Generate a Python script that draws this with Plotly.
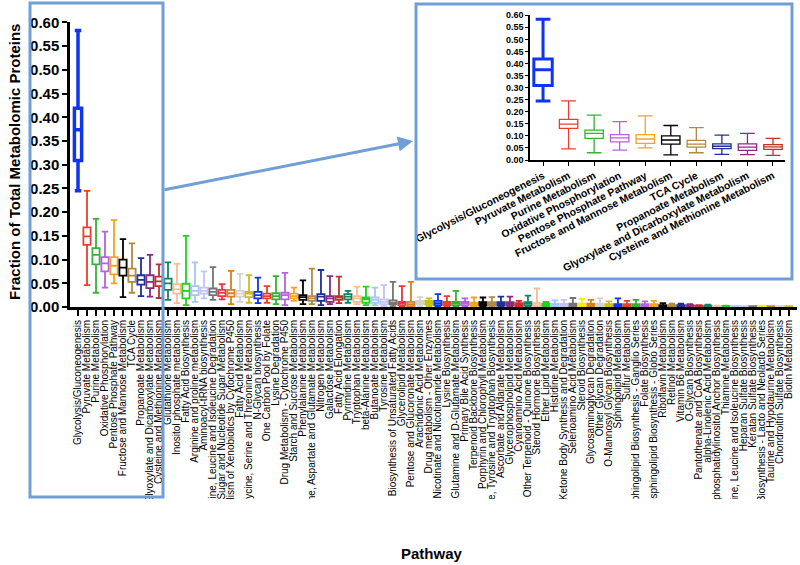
import plotly.graph_objects as go

pathways = [
    "Glycolysis/Gluconeogenesis", "Pyruvate Metabolism", "Purine Metabolism",
    "Oxidative Phosphorylation", "Pentose Phosphate Pathway", "Fructose and Mannose Metabolism",
    "TCA Cycle", "Propanoate Metabolism", "Glyoxylate and Dicarboxylate Metabolism",
    "Cysteine and Methionine Metabolism", "Glutathione Metabolism", "Inositol phosphate metabolism",
    "Fatty Acid Biosynthesis", "Arginine and proline metabolism", "Aminoacyl-tRNA biosynthesis",
    "Valine, Leucine and Isoleucine Degradation", "Amino Sugar and Nucleotide Sugar Metabolism",
    "Metabolism of Xenobiotics by Cytochrome P450", "Fatty Acid Metabolism",
    "Glycine, Serine and Threonine Metabolism", "N-Glycan biosynthesis", "One Carbon Pool by Folate",
    "Lysine Degradation", "Drug Metabolism - Cytochrome P450", "Starch and Sucrose Metabolism",
    "Phenylalanine Metabolism", "Alanine, Aspartate and Glutamate Metabolism", "Nitrogen Metabolism",
    "Galactose Metabolism", "Fatty Acid Elongation", "Pyrimidine Metabolism", "Tryptophan Metabolism",
    "beta-Alanine Metabolism", "Butanoate Metabolism", "Tyrosine Metabolism",
    "Biosynthesis of Unsaturated Fatty Acids", "Glycerolipid Metabolism",
    "Pentose and Glucoronate Metabolism", "Arachidonic Acid Metabolism",
    "Drug metabolism - Other Enzymes", "Nicotinate and Nicotinamide Metabolism", "Lysine Biosynthesis",
    "D-Glutamine and D-Glutamate Metabolism", "Primary Bile Acid Synthesis",
    "Terpenoid Backbone Biosynthesis", "Porphyrin and Chlorophyll Metabolism",
    "Phenylalanine, Tyrosine and Tryptophan Biosynthesis", "Ascorbate and Aldarate Metabolism",
    "Glycerophospholipid Metabolism", "Cyanoamino Acid Metabolism",
    "Ubiquinone and Other Terpenoid - Quinone Biosynthesis", "Steroid Hormone Biosynthesis",
    "Ether Lipid Metabolism", "Histidine Metabolism", "Ketone Body Synthesis and Degradation",
    "Selenoamino Acid Metabolism", "Steroid Biosynthesis", "Glycosaminoglycan Degradation",
    "Other Glycan Degradation", "O-Mannosyl Glycan Biosynthesis", "Sphingolipid Metabolism",
    "Sulfur Metabolism", "Glycosphingolipid Biosynthesis - Ganglio Series", "Folate Biosynthesis",
    "Glycosphingolipid Biosynthesis - Globo Series", "Riboflavin Metabolism", "Retinol Metabolism",
    "Vitamin B6 Metabolism", "O-Glycan Biosynthesis", "Pantothenate and CoA Biosynthesis",
    "alpha-Linolenic Acid Metabolism", "Glycosylphosphatidylinositol Anchor Biosynthesis",
    "Thiamine Metabolism", "Valine, Leucine and Isoleucine Biosynthesis",
    "Heparan Sulfate Biosynthesis", "Keratan Sulfate Biosynthesis",
    "Glycosphingolipid Biosynthesis - Lacto and Neolacto Series",
    "Taurine and Hypotaurine Metabolism", "Chondroitin Sulfate Biosynthesis", "Biotin Metabolism",
]

upper = [0.583, 0.245, 0.186, 0.159, 0.183, 0.143, 0.134, 0.103, 0.110, 0.090,
         0.094, 0.091, 0.150, 0.094, 0.075, 0.084, 0.048, 0.076, 0.070, 0.067,
         0.062, 0.044, 0.065, 0.072, 0.041, 0.056, 0.081, 0.078, 0.065, 0.064,
         0.034, 0.043, 0.043, 0.041, 0.046, 0.053, 0.044, 0.053, 0.021, 0.018,
         0.027, 0.023, 0.034, 0.018, 0.020, 0.020, 0.021, 0.022, 0.022, 0.013,
         0.024, 0.039, 0.011, 0.014, 0.015, 0.019, 0.017, 0.015, 0.018, 0.012,
         0.018, 0.013, 0.015, 0.012, 0.013, 0.008, 0.007, 0.007, 0.006, 0.004,
         0.005, 0.003, 0.003, 0.002, 0.002, 0.002, 0.003, 0.002, 0.002, 0.002]
q3 = [0.419, 0.168, 0.124, 0.105, 0.105, 0.100, 0.081, 0.067, 0.067, 0.064,
      0.060, 0.048, 0.049, 0.044, 0.041, 0.039, 0.036, 0.036, 0.034, 0.032,
      0.032, 0.028, 0.029, 0.030, 0.028, 0.025, 0.023, 0.027, 0.023, 0.023,
      0.027, 0.023, 0.020, 0.020, 0.016, 0.014, 0.011, 0.011, 0.013, 0.013,
      0.013, 0.011, 0.011, 0.011, 0.009, 0.010, 0.010, 0.010, 0.010, 0.008,
      0.010, 0.008, 0.007, 0.007, 0.007, 0.007, 0.007, 0.007, 0.007, 0.006,
      0.006, 0.006, 0.006, 0.006, 0.006, 0.004, 0.004, 0.004, 0.004, 0.003,
      0.003, 0.002, 0.002, 0.002, 0.002, 0.002, 0.002, 0.002, 0.002, 0.002]
median = [0.374, 0.149, 0.110, 0.092, 0.087, 0.083, 0.066, 0.057, 0.053, 0.054,
          0.050, 0.037, 0.034, 0.034, 0.034, 0.032, 0.030, 0.029, 0.028, 0.028,
          0.025, 0.023, 0.023, 0.025, 0.023, 0.021, 0.018, 0.022, 0.018, 0.020,
          0.022, 0.018, 0.016, 0.015, 0.011, 0.009, 0.008, 0.006, 0.009, 0.009,
          0.008, 0.007, 0.008, 0.008, 0.006, 0.006, 0.006, 0.006, 0.006, 0.005,
          0.007, 0.004, 0.004, 0.004, 0.004, 0.004, 0.004, 0.004, 0.004, 0.003,
          0.003, 0.003, 0.003, 0.003, 0.003, 0.002, 0.002, 0.002, 0.002, 0.002,
          0.002, 0.001, 0.001, 0.001, 0.001, 0.001, 0.001, 0.001, 0.001, 0.001]
q1 = [0.309, 0.131, 0.090, 0.075, 0.069, 0.066, 0.053, 0.047, 0.040, 0.044,
      0.036, 0.028, 0.018, 0.025, 0.028, 0.025, 0.023, 0.022, 0.022, 0.021,
      0.018, 0.018, 0.016, 0.016, 0.018, 0.015, 0.013, 0.013, 0.011, 0.015,
      0.016, 0.011, 0.009, 0.009, 0.006, 0.006, 0.004, 0.002, 0.006, 0.005,
      0.004, 0.004, 0.004, 0.004, 0.003, 0.003, 0.003, 0.003, 0.003, 0.002,
      0.003, 0.001, 0.002, 0.002, 0.002, 0.002, 0.002, 0.001, 0.001, 0.001,
      0.001, 0.001, 0.001, 0.001, 0.001, 0.001, 0.001, 0.001, 0.001, 0.001,
      0.001, 0.000, 0.000, 0.000, 0.000, 0.000, 0.000, 0.000, 0.000, 0.000]
lower = [0.245, 0.046, 0.030, 0.041, 0.050, 0.021, 0.030, 0.023, 0.022, 0.019,
         0.015, 0.008, 0.004, 0.011, 0.018, 0.015, 0.016, 0.006, 0.011, 0.009,
         0.008, 0.009, 0.006, 0.004, 0.013, 0.006, 0.006, 0.004, 0.006, 0.008,
         0.009, 0.006, 0.004, 0.004, 0.002, 0.002, 0.001, 0.001, 0.002, 0.002,
         0.002, 0.001, 0.001, 0.001, 0.001, 0.000, 0.000, 0.000, 0.000, 0.000,
         0.000, 0.000, 0.000, 0.000, 0.000, 0.000, 0.000, 0.000, 0.000, 0.000,
         0.000, 0.000, 0.000, 0.000, 0.000, 0.000, 0.000, 0.000, 0.000, 0.000,
         0.000, 0.000, 0.000, 0.000, 0.000, 0.000, 0.000, 0.000, 0.000, 0.000]

y_ticks = [0.00, 0.05, 0.10, 0.15, 0.20, 0.25, 0.30, 0.35, 0.40, 0.45, 0.50, 0.55, 0.60]
n_inset = 10

# style: colour cycle
palette = ["#1034f2", "#e8402a", "#32b432", "#b262e2", "#f2a424", "#000000", "#b48a42",
           "#1f2f9a", "#8a2a80", "#c2302a", "#128462", "#f6bc94", "#22d022", "#a4c6f0",
           "#c4c4f8", "#747474", "#f03242", "#d48222", "#d2d2d2", "#c8c020"]
colors = [palette[i % 20] for i in range(len(pathways))]
colors[56] = "#f2ee10"
colors[76] = "#f2ee10"

FONT = "Liberation Sans, Arial, sans-serif"
W, H = 800, 565
ML, MR, MT, MB = 70, 3, 10, 258
PW = W - ML - MR
PH = H - MT - MB


def px(x):
    return (x - ML) / PW


def py(y):
    return (H - MB - y) / PH


fig = go.Figure()

for i, name in enumerate(pathways):
    fig.add_trace(go.Box(
        x=[name], q1=[q1[i]], median=[median[i]], q3=[q3[i]],
        lowerfence=[lower[i]], upperfence=[upper[i]],
        boxpoints=False, width=0.8, whiskerwidth=0.9,
        fillcolor="white", line=dict(color=colors[i], width=3.5 if i == 0 else 1.8),
        xaxis="x", yaxis="y", hoverinfo="skip", showlegend=False,
    ))

for i in range(n_inset):
    fig.add_trace(go.Box(
        x=[pathways[i]], q1=[q1[i]], median=[median[i]], q3=[q3[i]],
        lowerfence=[lower[i]], upperfence=[upper[i]],
        boxpoints=False, width=0.72, whiskerwidth=0.8,
        fillcolor="white", line=dict(color=colors[i], width=3 if i == 0 else 1.3),
        xaxis="x2", yaxis="y2", hoverinfo="skip", showlegend=False,
    ))

main_top = 22
in_left, in_right, in_top, in_bot = 530, 785, 15, 160

fig.update_layout(
    width=W, height=H,
    margin=dict(l=ML, r=MR, t=MT, b=MB, autoexpand=False),
    paper_bgcolor="white", plot_bgcolor="white",
    boxmode="overlay", showlegend=False,
    font=dict(family=FONT, color="black"),
    xaxis=dict(
        domain=[0, 1], type="category", range=[-0.89, 79.9], automargin=False,
        tickmode="array", tickvals=pathways, ticktext=pathways,
        tickangle=-90, tickfont=dict(size=10, family=FONT, color="black"),
        showline=True, linecolor="black", linewidth=3,
        ticks="outside", ticklen=6, tickwidth=1.5, tickcolor="black",
        showgrid=False, zeroline=False, anchor="y",
    ),
    yaxis=dict(
        domain=[0, py(main_top)], range=[0, 0.601], automargin=False,
        tickmode="array", tickvals=y_ticks, tickformat=".2f",
        tickfont=dict(size=15, family=FONT, color="black", weight="bold"),
        showline=True, linecolor="black", linewidth=2.5,
        ticks="outside", ticklen=5, tickwidth=2, tickcolor="black",
        showgrid=False, zeroline=False, anchor="x",
    ),
    xaxis2=dict(
        domain=[px(in_left), px(in_right)], type="category", range=[-0.51, 9.47],
        automargin=False,
        tickmode="array", tickvals=pathways[:n_inset], ticktext=pathways[:n_inset],
        tickangle=-27, tickfont=dict(size=10.5, family=FONT, color="black", weight="bold"),
        showline=True, linecolor="black", linewidth=1.5,
        ticks="outside", ticklen=4, tickwidth=1.2, tickcolor="black",
        showgrid=False, zeroline=False, anchor="y2",
    ),
    yaxis2=dict(
        domain=[py(in_bot), py(in_top)], range=[0, 0.601], automargin=False,
        tickmode="array", tickvals=y_ticks, tickformat=".2f",
        tickfont=dict(size=9, family=FONT, color="black", weight="bold"),
        showline=True, linecolor="black", linewidth=1.5,
        ticks="outside", ticklen=3, tickwidth=1.2, tickcolor="black",
        showgrid=False, zeroline=False, anchor="x2",
    ),
)

frame = "#6f9fd6"
shapes = [
    # clip long tick labels, as in the reference
    dict(type="rect", xref="paper", yref="paper", layer="above",
         x0=px(-10), x1=px(W + 10), y0=py(499), y1=py(H + 10),
         fillcolor="white", line=dict(width=0)),
    dict(type="rect", xref="paper", yref="paper", layer="above",
         x0=px(30), x1=px(163), y0=py(497), y1=py(3),
         line=dict(color=frame, width=3), fillcolor="rgba(0,0,0,0)"),
    dict(type="rect", xref="paper", yref="paper", layer="above",
         x0=px(416), x1=px(792), y0=py(279), y1=py(4),
         line=dict(color=frame, width=3), fillcolor="rgba(0,0,0,0)"),
]
fig.update_layout(shapes=shapes)

fig.add_annotation(xref="paper", yref="paper", x=px(413), y=py(141),
                   ax=163 - 413, ay=190 - 141, text="", showarrow=True,
                   arrowhead=2, arrowsize=1, arrowwidth=3, arrowcolor=frame)
fig.add_annotation(xref="paper", yref="paper", x=px(14), y=py(162),
                   text="Fraction of Total Metabolomic Proteins", textangle=-90,
                   showarrow=False, xanchor="center", yanchor="middle",
                   font=dict(size=15, family=FONT, color="black", weight="bold"))
fig.add_annotation(xref="paper", yref="paper", x=px(432), y=py(553),
                   text="Pathway", showarrow=False, xanchor="center", yanchor="middle",
                   font=dict(size=15, family=FONT, color="black", weight="bold"))

fig.write_html("out.html", config={"displayModeBar": False},
               post_script="document.body.style.margin='0px';document.body.style.overflow='hidden';")
